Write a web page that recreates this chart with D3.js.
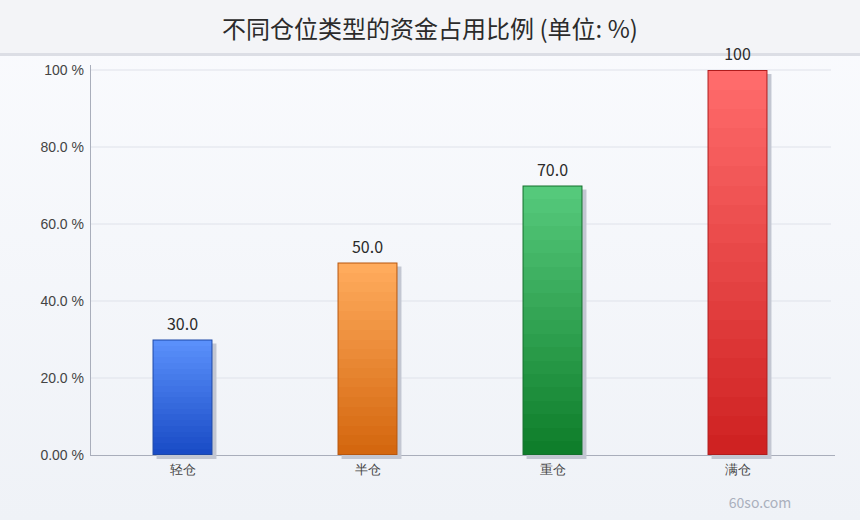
<!DOCTYPE html>
<html>
<head>
<meta charset="utf-8">
<script src="https://cdn.jsdelivr.net/npm/d3@7"></script>
<style>
  html, body { margin: 0; padding: 0; background: #f2f4f8; }
  svg { display: block; font-family: "Noto Sans CJK SC", "Noto Sans", sans-serif; }
</style>
</head>
<body>
<svg id="chart" width="860" height="520"></svg>
<script>
const categories = ['轻仓', '半仓', '重仓', '满仓'];
const values = [30, 50, 70, 100];
const yTicks = [0, 20, 40, 60, 80, 100];
const topColors = ['#5a90fb', '#ffab5c', '#55c97b', '#ff6b6b'];
const bottomColors = ['#1a4cc6', '#d4670f', '#0f7e2b', '#cf2222'];
const edgeColors = ['#1d48a8', '#b8560c', '#13702c', '#b01c1c'];

const svg = d3.select('#chart');
const W = 860, H = 520;
const margin = { top: 70, right: 30, bottom: 65, left: 90 };

const defs = svg.append('defs');

// page background
const bg = defs.append('linearGradient').attr('id', 'bg').attr('x1', 0).attr('y1', 0).attr('x2', 0).attr('y2', 1);
bg.append('stop').attr('offset', '0%').attr('stop-color', '#fafbfe');
bg.append('stop').attr('offset', '100%').attr('stop-color', '#eff2f7');
svg.append('rect').attr('width', W).attr('height', H).attr('fill', 'url(#bg)');

// title band
svg.append('rect').attr('width', W).attr('height', 53).attr('fill', '#f3f4f7');
svg.append('rect').attr('y', 53).attr('width', W).attr('height', 3).attr('fill', '#dcdee5');
svg.append('text')
  .attr('x', W / 2).attr('y', 38)
  .attr('text-anchor', 'middle')
  .attr('font-size', 24)
  .attr('fill', '#2b2b2b')
  .text('不同仓位类型的资金占用比例 (单位: %)');

// stepped gradients, one per bar
categories.forEach((c, i) => {
  const g = defs.append('linearGradient').attr('id', 'g' + i)
    .attr('x1', 0).attr('y1', 0).attr('x2', 0).attr('y2', 1);
  const col = d3.interpolateRgb(topColors[i], bottomColors[i]);
  const n = 20;
  for (let k = 0; k < n; k++) {
    g.append('stop').attr('offset', (k / n * 100) + '%').attr('stop-color', col(k / (n - 1)));
    g.append('stop').attr('offset', ((k + 1) / n * 100) + '%').attr('stop-color', col(k / (n - 1)));
  }
});

const x = d3.scaleBand()
  .domain(categories)
  .range([margin.left, 830])
  .paddingInner(0.676)
  .paddingOuter(0.338);

const y = d3.scaleLinear()
  .domain([0, 100])
  .range([H - margin.bottom, margin.top]);

// grid
svg.append('g')
  .selectAll('line')
  .data(yTicks.filter(d => d > 0))
  .join('line')
  .attr('x1', margin.left).attr('x2', 831)
  .attr('y1', d => y(d)).attr('y2', d => y(d))
  .attr('stroke', '#dfe2ea').attr('stroke-width', 1);

// y axis
const yAxis = svg.append('g')
  .attr('transform', `translate(${margin.left},0)`)
  .call(d3.axisLeft(y).tickValues(yTicks).tickSize(0).tickPadding(6)
    .tickFormat(d => d.toPrecision(3) + ' %'));
yAxis.select('.domain').attr('stroke', '#a9aebb').attr('d', `M0.5,${margin.top - 5}V${y(0)}`);
yAxis.selectAll('text').attr('font-size', 14).attr('fill', '#444');

// x axis
const xAxis = svg.append('g')
  .attr('transform', `translate(0,${y(0)})`)
  .call(d3.axisBottom(x).tickSize(0).tickPadding(10));
xAxis.select('.domain').attr('stroke', '#a9aebb').attr('d', `M${margin.left},0.5H835`);
xAxis.selectAll('text').attr('font-size', 13).attr('fill', '#444');

// shadows
svg.append('g')
  .selectAll('rect')
  .data(values)
  .join('rect')
  .attr('x', (d, i) => x(categories[i]) + 4)
  .attr('y', d => y(d) + 4)
  .attr('width', x.bandwidth())
  .attr('height', d => y(0) - y(d))
  .attr('fill', '#c3c7d2');

// bars
svg.append('g')
  .selectAll('rect')
  .data(values)
  .join('rect')
  .attr('x', (d, i) => x(categories[i]) + 0.5)
  .attr('y', d => y(d) + 0.5)
  .attr('width', x.bandwidth() - 1)
  .attr('height', d => y(0) - y(d) - 1)
  .attr('fill', (d, i) => `url(#g${i})`)
  .attr('stroke', (d, i) => edgeColors[i])
  .attr('stroke-width', 1);

// value labels
svg.append('g')
  .selectAll('text')
  .data(values)
  .join('text')
  .attr('x', (d, i) => x(categories[i]) + x.bandwidth() / 2)
  .attr('y', d => y(d) - 10)
  .attr('text-anchor', 'middle')
  .attr('font-size', 16)
  .attr('fill', '#2b2b2b')
  .text(d => d.toPrecision(3));

// watermark
svg.append('text')
  .attr('x', 760).attr('y', 508)
  .attr('text-anchor', 'middle')
  .attr('font-size', 14)
  .attr('fill', '#aab0bd')
  .text('60so.com');
</script>
</body>
</html>
